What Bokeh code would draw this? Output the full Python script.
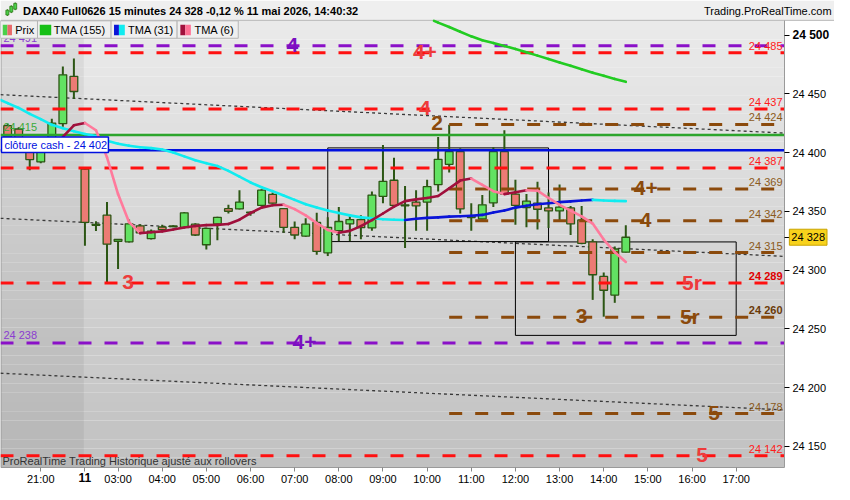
import numpy as np
from bokeh.plotting import figure
from bokeh.models import Range1d, FixedTicker, Label, LinearAxis
from bokeh.core.properties import value
from bokeh.embed import file_html
from bokeh.resources import INLINE

FONT = "Liberation Sans"

# ---------------- data ----------------
bar_open = [24422.9, 24420.1, 24407.5, 24392.1, 24409.2, 24424.6, 24464.9, 24385.9, 24339.0, 24346.8,
            24324.6, 24324.1, 24337.7, 24326.8, 24336.7, 24337.6, 24336.4, 24339.1, 24321.6, 24339.4,
            24352.3, 24352.1, 24349.4, 24355.1, 24364.4, 24352.3, 24336.4, 24329.0, 24340.6, 24314.7,
            24333.6, 24339.4, 24343.0, 24335.9, 24362.8, 24376.5, 24355.6, 24357.9, 24357.9, 24372.7,
            24390.0, 24400.9, 24346.3, 24343.5, 24357.3, 24400.9, 24364.7, 24353.2, 24357.0, 24352.9,
            24350.4, 24352.9, 24342.7, 24324.1, 24294.7, 24278.8, 24315.3]
bar_high = [24424.5, 24421.5, 24409.0, 24410.0, 24428.7, 24473.2, 24480.0, 24386.3, 24341.6, 24357.9,
            24326.6, 24343.0, 24339.0, 24334.5, 24338.6, 24338.2, 24349.5, 24340.0, 24336.0, 24345.5,
            24355.6, 24368.0, 24349.8, 24368.8, 24366.1, 24352.8, 24341.4, 24344.1, 24348.8, 24344.9,
            24353.7, 24346.8, 24346.8, 24366.9, 24406.4, 24395.7, 24371.5, 24368.0, 24376.8, 24413.3,
            24423.7, 24403.6, 24357.0, 24363.9, 24404.5, 24419.1, 24377.0, 24364.7, 24375.1, 24366.1,
            24372.9, 24354.6, 24354.6, 24326.2, 24298.0, 24320.2, 24338.3]
bar_low = [24411.0, 24407.5, 24385.0, 24391.0, 24407.0, 24422.0, 24445.6, 24320.8, 24333.4, 24290.0,
           24301.0, 24323.5, 24330.5, 24326.0, 24334.0, 24336.6, 24336.0, 24329.0, 24317.5, 24325.4,
           24348.2, 24351.5, 24346.3, 24354.6, 24356.5, 24331.8, 24326.2, 24328.5, 24313.1, 24312.0,
           24324.9, 24324.9, 24326.2, 24333.6, 24357.0, 24354.0, 24318.8, 24333.6, 24333.6, 24366.9,
           24383.0, 24348.2, 24333.6, 24343.0, 24353.7, 24364.1, 24338.6, 24336.4, 24334.5, 24335.9,
           24342.2, 24329.9, 24322.0, 24274.7, 24260.4, 24272.2, 24315.0]
bar_close = [24413.3, 24409.2, 24394.1, 24407.5, 24425.1, 24466.2, 24452.0, 24340.6, 24338.2, 24322.1,
             24326.2, 24339.4, 24331.7, 24333.1, 24334.5, 24337.0, 24348.8, 24329.9, 24335.6, 24344.9,
             24350.1, 24357.9, 24348.8, 24368.0, 24357.0, 24336.4, 24329.9, 24339.1, 24315.9, 24336.4,
             24341.4, 24343.0, 24336.1, 24363.9, 24375.6, 24355.1, 24354.8, 24354.6, 24371.0, 24394.3,
             24400.9, 24352.1, 24344.7, 24355.6, 24400.9, 24364.7, 24355.1, 24358.7, 24351.8, 24350.4,
             24353.7, 24339.4, 24322.7, 24296.1, 24282.9, 24318.0, 24328.0]

tma155_first_bar = 38
tma155 = [24514.6, 24510.6, 24506.8, 24502.8, 24498.9, 24495.6, 24493.2, 24490.7, 24488.2, 24485.3,
          24482.5, 24479.6, 24476.7, 24473.8, 24470.9, 24468.0, 24465.3, 24462.7, 24460.2]
tma31_first_bar = -1
tma31 = [24446.2, 24442.1, 24438.0, 24433.0, 24428.5, 24423.6, 24420.7, 24418.2, 24415.8, 24414.1,
         24410.0, 24407.5, 24405.9, 24404.6, 24403.8, 24402.6, 24400.1, 24396.8, 24393.5, 24391.0,
         24388.6, 24384.5, 24379.5, 24374.6, 24370.5, 24367.2, 24363.5, 24359.8, 24356.1, 24353.2,
         24350.7, 24348.6, 24346.6, 24344.9, 24344.1, 24343.3, 24342.9, 24342.7, 24343.7, 24344.5,
         24344.9, 24345.5, 24345.9, 24346.3, 24347.0, 24349.1, 24350.7, 24353.2, 24354.8, 24356.1,
         24356.9, 24357.9, 24358.5, 24359.3, 24359.8, 24359.3, 24358.9, 24358.7]
tma6_first_bar = 5
tma6 = [24413.3, 24423.2, 24425.2, 24419.0, 24396.0, 24364.7, 24340.8, 24331.5, 24332.2, 24333.0,
        24334.6, 24336.3, 24337.5, 24338.3, 24338.5, 24339.2, 24342.9, 24348.6, 24353.2, 24355.2,
        24355.6, 24351.9, 24346.6, 24340.0, 24334.2, 24331.8, 24333.4, 24337.5, 24342.5, 24348.2,
        24354.0, 24358.7, 24360.2, 24361.4, 24363.1, 24369.6, 24376.2, 24377.9, 24372.5, 24367.2,
        24364.7, 24366.3, 24368.0, 24367.6, 24361.4, 24355.6, 24350.7, 24345.8, 24339.6, 24326.0,
        24315.3, 24307.0]

x_tick_bars = [3, 7, 10, 14, 18, 22, 26, 30, 34, 38, 42, 46, 50, 54, 58, 62, 66]
x_tick_labels = ["21:00", "11", "03:00", "04:00", "05:00", "06:00", "07:00", "08:00", "09:00",
                 "10:00", "11:00", "12:00", "13:00", "14:00", "15:00", "16:00", "17:00"]
y_ticks = [24150, 24200, 24250, 24300, 24350, 24400, 24450, 24500]

level_prices = [24491, 24485, 24437, 24424, 24415, 24402, 24387, 24369, 24342, 24315, 24289, 24260,
                24238, 24178, 24142]
level_kinds = ["purple", "red", "red", "brown", "green", "blue", "red", "brown", "brown", "brown",
               "red", "brown", "purple", "brown", "red"]
level_first_bar = [None, None, None, 40, None, None, None, 40, 40, 40, None, 40, None, 40, None]
level_label_side = ["left", "right", "right", "right", "left", "box", "right", "right", "right",
                    "right", "right", "right", "left", "right", "right"]

# wave-count marks: text, level price, bar
mark_texts = ["4", "4+", "4", "2", "4+", "4", "3", "5r", "3", "5r", "4+", "5", "5"]
mark_prices = [24491, 24485, 24437, 24424, 24369, 24342, 24289, 24289, 24260, 24260, 24238, 24178, 24142]
mark_kinds = ["purple", "red", "red", "brown", "brown", "brown", "red", "red", "brown", "brown",
              "purple", "brown", "red"]
mark_bars = [25.8, 37.8, 37.8, 38.9, 57.8, 57.8, 10.9, 62.0, 52.0, 61.8, 26.9, 64.0, 62.9]

trend_price_left = [24449.3, 24344.1, 24212.3]
trend_price_right = [24416.6, 24311.7, 24181.1]

box_first_bar = [29, 46]
box_last_bar = [49, 66]
box_top = [24404.0, 24324.0]
box_bottom = [24324.3, 24244.5]

day_break_bar = 6.9
last_price = 24328
title_text = "DAX40 Full0626 15 minutes 24 328 -0,12 % 11 mai 2026, 14:40:32"
site_text = "Trading.ProRealTime.com"
footer_text = "ProRealTime Trading  Historique ajusté aux rollovers"

# ---------------- layout helpers (reference pixel -> data coordinate) ----------------
def fmt(v):
    v = int(round(v))
    return f"{v // 1000} {v % 1000:03d}"

def bx(px):
    return (px - 7.3) / 11.25

def py(pyy):
    return 24529.4 - 0.82352 * pyy

LINE = {"red": "#ff1010", "brown": "#8b4a0c", "purple": "#8a10c8", "green": "#2ca52c", "blue": "#0010e0"}
MARK = {"red": "#ee3b3b", "brown": "#8b4a0c", "purple": "#7a10c0"}
LABEL = {"red": "#ff1a1a", "brown": "#8b5a20", "purple": "#8a3cd0", "green": "#3aaa3a"}

PL, PR = bx(0), bx(799)      # plot area left/right
PT, PB = py(21), py(482)     # plot area top/bottom

p = figure(width=834, height=484, output_backend="svg", toolbar_location=None,
           x_range=Range1d(bx(0), bx(850)), y_range=Range1d(py(500), py(0)),
           x_axis_location=None, y_axis_location=None,
           min_border_left=0, min_border_right=0, min_border_top=0, min_border_bottom=0,
           background_fill_color="white", border_fill_color="white", outline_line_color=None)
p.grid.visible = False

# background gradient of the plot area (style)
nb = 48
edges = np.linspace(PB, PT, nb + 1)
cols = []
for k in range(nb):
    t = k / (nb - 1)
    g = int(round(0xc1 + t * (0xea - 0xc1)))
    cols.append(f"#{g:02x}{g:02x}{g:02x}")
p.quad(left=PL, right=PR, bottom=edges[:-1], top=edges[1:], fill_color=cols, line_color=None)
p.quad(left=PL, right=day_break_bar, bottom=PB, top=PT, fill_color="black",
       fill_alpha=0.055, line_color=None)

# title bar
p.quad(left=bx(0), right=bx(850), bottom=py(20.5), top=py(0), fill_color="#efefef",
       line_color=None)
p.line([bx(0), bx(850)], [py(20.5), py(20.5)], line_color="#b8b8b8", line_width=1)
p.line([bx(0.5), bx(0.5)], [PB, PT], line_color="#9a9a9a", line_width=1)
# small candle icon
p.segment(x0=[bx(7), bx(11), bx(15)], y0=[py(16), py(13), py(10)],
          x1=[bx(7), bx(11), bx(15)], y1=[py(9), py(5), py(2)], line_color="#2c7a14", line_width=1)
p.quad(left=[bx(5.5), bx(9.5), bx(13.5)], right=[bx(8.5), bx(12.5), bx(16.5)],
       bottom=[py(15), py(12), py(9)], top=[py(10), py(6), py(3)],
       fill_color="#4ad04a", line_color="#2c7a14", line_width=0.8)
p.text(x=[bx(23)], y=[py(11)], text=[title_text], text_font=value(FONT), text_font_size="11px",
       text_font_style="bold", text_baseline="middle", text_color="black")
p.text(x=[bx(847)], y=[py(11)], text=[site_text], text_font=value(FONT), text_font_size="11px",
       text_align="right", text_baseline="middle", text_color="black")

# trend lines
for a, b in zip(trend_price_left, trend_price_right):
    p.line([PL, PR], [a, b], line_color="#3a3a3a", line_width=1.3, line_dash="3 3")

# boxes
p.quad(left=box_first_bar, right=box_last_bar, top=box_top, bottom=box_bottom,
       fill_alpha=0, line_color="black", line_width=1)

# candles
idx = np.arange(len(bar_open))
o = np.array(bar_open); c = np.array(bar_close)
inc = c >= o
dec = ~inc
p.segment(idx, bar_high, idx, bar_low, line_color="#2c5614", line_width=2)
p.vbar(x=idx[inc], width=0.7, bottom=o[inc], top=c[inc], fill_color="#62e262",
       line_color="#2c5614", line_width=1.3)
p.vbar(x=idx[dec], width=0.7, bottom=c[dec], top=o[dec], fill_color="#ec7b74",
       line_color="#2c5614", line_width=1.3)

# horizontal levels
for price, kind, first in zip(level_prices, level_kinds, level_first_bar):
    start = PL if first is None else first
    if kind in ("green", "blue"):
        p.line([start, PR], [price, price], line_color=LINE[kind], line_width=2.5)
    else:
        p.line([start, PR], [price, price], line_color=LINE[kind], line_width=3, line_dash="13 13")

# moving averages, coloured by direction
def ma(first, vals, up, down, w=2.6):
    xs, ys, cs = [], [], []
    for k in range(len(vals) - 1):
        x0, x1, y0, y1 = first + k, first + k + 1, vals[k], vals[k + 1]
        if x0 < PL:
            y0 = y0 + (y1 - y0) * (PL - x0) / (x1 - x0); x0 = PL
        if y0 > PT:
            x0 = x0 + (x1 - x0) * (y0 - PT) / (y0 - y1); y0 = PT
        xs.append([x0, x1]); ys.append([y0, y1])
        cs.append(up if vals[k + 1] >= vals[k] else down)
    p.multi_line(xs=xs, ys=ys, line_color=cs, line_width=w, line_cap="round", line_join="round")

ma(tma155_first_bar, tma155, "#22cc22", "#22cc22")
ma(tma31_first_bar, tma31, "#0a14d8", "#10ecf0")
ma(tma6_first_bar, tma6, "#a0103c", "#ff7a9c")

# level value labels
for price, kind, side in zip(level_prices, level_kinds, level_label_side):
    if side == "right":
        bold = price in (24289, 24260)
        col = LABEL[kind]
        if bold:
            col = "#e00000" if kind == "red" else "#6b3a08"
        p.text(x=[bx(797)], y=[price], text=[fmt(price)], text_font=value(FONT),
               text_font_size="11px", text_align="right", text_baseline="bottom", y_offset=-1,
               text_color=col, text_font_style="bold" if bold else "normal")
    elif side == "left":
        p.text(x=[bx(3)], y=[price], text=[fmt(price)], text_font=value(FONT),
               text_font_size="11px", text_align="left", text_baseline="bottom", y_offset=-2,
               text_color=LABEL[kind])

# wave marks
for t, price, kind, b in zip(mark_texts, mark_prices, mark_kinds, mark_bars):
    p.text(x=[b], y=[price], text=[t], text_font=value(FONT), text_font_size="21px",
           text_font_style="bold", text_align="center", text_baseline="middle", y_offset=-1,
           text_color=MARK[kind])

# close-cash box
p.quad(left=[bx(1)], right=[bx(110)], top=[py(141)], bottom=[py(157)], fill_color="white",
       line_color="#0010e0", line_width=1.5)
p.text(x=[bx(4)], y=[py(149)], text=["clôture cash -  " + fmt(level_prices[5])],
       text_font=value(FONT), text_font_size="11px", text_baseline="middle", text_color="#0010e0")

# legend row
leg_l = [0, 37.7, 112.7, 180]
leg_r = [37.7, 112.7, 180, 242.3]
p.quad(left=[bx(v) for v in leg_l], right=[bx(v) for v in leg_r], top=py(21), bottom=py(39),
       fill_color="#efefef", line_color="#b5b5b5", line_width=1)
sw_l = [2.3, 7.0, 40.0, 115.7, 120.7, 183.3, 188.3]
sw_r = [7.0, 11.7, 51.7, 120.7, 126.7, 188.3, 194.0]
sw_c = ["#4ad04a", "#e86a6a", "#16c016", "#0a14d8", "#10ecf0", "#a0103c", "#ff6f94"]
p.quad(left=[bx(v) for v in sw_l], right=[bx(v) for v in sw_r], top=py(25), bottom=py(36),
       fill_color=sw_c, line_color=None)
p.text(x=[bx(15), bx(54.3), bx(130), bx(197.7)], y=py(30.5),
       text=["Prix", "TMA (155)", "TMA (31)", "TMA (6)"], text_font=value(FONT),
       text_font_size="11px", text_baseline="middle", text_color="black")

# footer note
p.text(x=[bx(2)], y=[py(476)], text=[footer_text], text_font=value(FONT), text_font_size="11px",
       text_baseline="middle", text_color="#333333")

# current price tag on the price axis
lab_kw = dict(x=bx(804), y=last_price, text=fmt(last_price), text_font=FONT, text_font_size="11px",
              text_align="left", text_baseline="middle", text_color="black",
              background_fill_color="#f8d21c", border_line_color="#c9a400")
if "padding" in Label.properties():
    lab_kw["padding"] = 2
p.add_layout(Label(**lab_kw))

# axes drawn at fixed locations on the edge of the plot area
def y_axis(ticks, labels, bold=False, line=True, size="11px"):
    ax = LinearAxis(fixed_location=PR, ticker=FixedTicker(ticks=ticks),
                    major_label_overrides=dict(zip(ticks, labels)), bounds=(PB, PT))
    ax.major_label_text_font = FONT
    ax.major_label_text_font_size = size
    ax.major_label_text_font_style = "bold" if bold else "normal"
    ax.major_label_text_color = "black"
    ax.minor_tick_line_color = None
    ax.major_tick_in = 0
    ax.major_tick_out = 5
    ax.major_tick_line_color = "black"
    ax.major_label_standoff = 3
    ax.axis_line_color = "#9a9a9a" if line else None
    p.add_layout(ax, "right")

def x_axis(ticks, labels, bold=False, line=True, size="11px"):
    ax = LinearAxis(fixed_location=PB, ticker=FixedTicker(ticks=ticks),
                    major_label_overrides=dict(zip(ticks, labels)), bounds=(PL, PR))
    ax.major_label_text_font = FONT
    ax.major_label_text_font_size = size
    ax.major_label_text_font_style = "bold" if bold else "normal"
    ax.major_label_text_color = "black"
    ax.minor_tick_line_color = None
    ax.major_tick_in = 0
    ax.major_tick_out = 4
    ax.major_tick_line_color = "#888888"
    ax.major_label_standoff = 2
    ax.axis_line_color = "#9a9a9a" if line else None
    p.add_layout(ax, "below")

y_axis([t for t in y_ticks if t != 24500], [fmt(t) for t in y_ticks if t != 24500])
y_axis([24500], [fmt(24500)], bold=True, line=False, size="12px")
y_axis([last_price], [""], line=False)
x_axis([b for b in x_tick_bars if b != 7], [l for b, l in zip(x_tick_bars, x_tick_labels) if b != 7])
x_axis([7], [x_tick_labels[x_tick_bars.index(7)]], bold=True, line=False, size="12px")

open("out.html", "w").write(file_html(p, INLINE))
